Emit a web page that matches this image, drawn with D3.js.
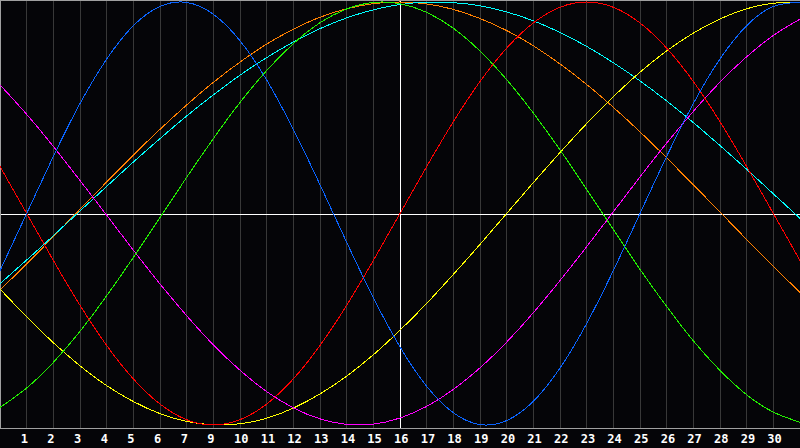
<!DOCTYPE html>
<html>
<head>
<meta charset="utf-8">
<script src="https://cdn.jsdelivr.net/npm/d3@7"></script>
<style>
  body { margin: 0; background: #050508; }
  svg { display: block; }
</style>
</head>
<body>
<div id="bio_chart"></div>
<script>
// days along the x axis (0 = left edge, 30 = right edge)
var days = [0,1,2,3,4,5,6,7,8,9,10,11,12,13,14,15,16,17,18,19,20,21,22,23,24,25,26,27,28,29,30];

// tick labels under grid lines 1..29 (the chart skips the 8)
var dayLabels = ["1","2","3","4","5","6","7","9","10","11","12","13","14","15","16","17","18","19","20","21","22","23","24","25","26","27","28","29","30"];

// values at each day, -1 .. 1
var physical = [-0.27,0,0.27,0.52,0.73,0.888,0.979,0.998,0.942,0.817,0.631,0.398,0.136,-0.136,-0.398,-0.631,-0.817,-0.942,-0.998,-0.979,-0.888,-0.731,-0.52,-0.27,0,0.27,0.52,0.731,0.888,0.979,0.998];
var emotional = [0.222,0,-0.222,-0.434,-0.624,-0.782,-0.901,-0.975,-1,-0.975,-0.901,-0.782,-0.624,-0.434,-0.222,0,0.222,0.434,0.624,0.782,0.901,0.975,1,0.975,0.901,0.782,0.624,0.434,0.222,0,-0.222];
var intellectual = [-0.917,-0.825,-0.704,-0.557,-0.389,-0.208,-0.019,0.171,0.354,0.525,0.676,0.803,0.902,0.967,0.998,0.992,0.951,0.876,0.768,0.633,0.475,0.301,0.114,-0.076,-0.264,-0.44,-0.602,-0.742,-0.857,-0.939,-0.987];
var intuitive = [0.608,0.469,0.317,0.156,-0.008,-0.173,-0.333,-0.483,-0.621,-0.741,-0.842,-0.919,-0.971,-0.997,-0.996,-0.967,-0.912,-0.832,-0.73,-0.608,-0.469,-0.317,-0.157,0.008,0.173,0.333,0.483,0.621,0.741,0.842,0.919];
var aesthetic = [-0.357,-0.489,-0.611,-0.72,-0.814,-0.889,-0.946,-0.983,-0.999,-0.994,-0.968,-0.92,-0.853,-0.769,-0.668,-0.552,-0.425,-0.288,-0.146,0,0.146,0.288,0.425,0.552,0.668,0.769,0.853,0.92,0.968,0.994,0.999];
var awareness = [-0.362,-0.238,-0.11,0.02,0.149,0.276,0.398,0.513,0.62,0.716,0.801,0.871,0.928,0.968,0.992,1,0.991,0.965,0.922,0.865,0.793,0.707,0.61,0.502,0.386,0.263,0.136,0.007,-0.123,-0.25,-0.373];
var spiritual = [-0.332,-0.22,-0.105,0.012,0.128,0.243,0.354,0.461,0.561,0.654,0.737,0.811,0.874,0.925,0.963,0.988,0.999,0.997,0.982,0.953,0.911,0.856,0.79,0.713,0.627,0.532,0.43,0.321,0.209,0.093,-0.023];

var seriesList = [awareness, spiritual, aesthetic, intuitive, intellectual, emotional, physical];
var seriesColors = ["#ff8000", "#00ffff", "#ffff00", "#ff00ff", "#22f000", "#ff0000", "#0a64ff"];

var width = 800;
var height = 448;
var plotBottom = 428;

var svg = d3.select("#bio_chart").append("svg")
    .attr("width", width)
    .attr("height", height);

svg.append("rect")
    .attr("width", width)
    .attr("height", height)
    .style("fill", "#050508");

var xScale = d3.scaleLinear()
    .domain([0, 30])
    .range([0, width]);

var yScale = d3.scaleLinear()
    .domain([-1, 1])
    .range([425, 2]);

// snap 1px lines onto a pixel
function px(v) { return Math.floor(v) + 0.5; }

// vertical day lines, the one under "16" is white
var gridDays = days.slice(1, 30);
svg.selectAll(".grid_line")
    .data(gridDays)
  .enter().append("line")
    .attr("class", "grid_line")
    .attr("x1", function(d) { return px(xScale(d)); })
    .attr("x2", function(d) { return px(xScale(d)); })
    .attr("y1", 0)
    .attr("y2", plotBottom)
    .style("stroke", function(d, i) { return dayLabels[i] == "16" ? "#ffffff" : "#383838"; })
    .style("stroke-width", 1)
    .style("shape-rendering", "crispEdges");

// zero line
svg.append("line")
    .attr("x1", 0)
    .attr("x2", width)
    .attr("y1", px(yScale(0)) + 1)
    .attr("y2", px(yScale(0)) + 1)
    .style("stroke", "#ffffff")
    .style("shape-rendering", "crispEdges");

// frame: top, left, bottom
svg.append("path")
    .attr("d", "M" + width + ",0.5H0.5V" + (plotBottom + 0.5) + "H" + width)
    .style("fill", "none")
    .style("stroke", "#a0a0a0")
    .style("shape-rendering", "crispEdges");

var line = d3.line()
    .x(function(d, i) { return xScale(days[i]); })
    .y(function(d) { return yScale(d); })
    .curve(d3.curveNatural);

svg.selectAll(".bio_line")
    .data(seriesList)
  .enter().append("path")
    .attr("class", "bio_line")
    .attr("d", line)
    .style("fill", "none")
    .style("stroke", function(d, i) { return seriesColors[i]; })
    .style("stroke-width", 1)
    .style("shape-rendering", "crispEdges");

// day numbers under the frame
svg.selectAll(".day_label")
    .data(dayLabels)
  .enter().append("text")
    .attr("class", "day_label")
    .attr("x", function(d, i) { return xScale(gridDays[i]) - 6; })
    .attr("y", 443)
    .text(function(d) { return d; })
    .style("fill", "#ffffff")
    .style("font-family", "'DejaVu Sans Mono', monospace")
    .style("font-weight", "bold")
    .style("font-size", "12px");
</script>
</body>
</html>
